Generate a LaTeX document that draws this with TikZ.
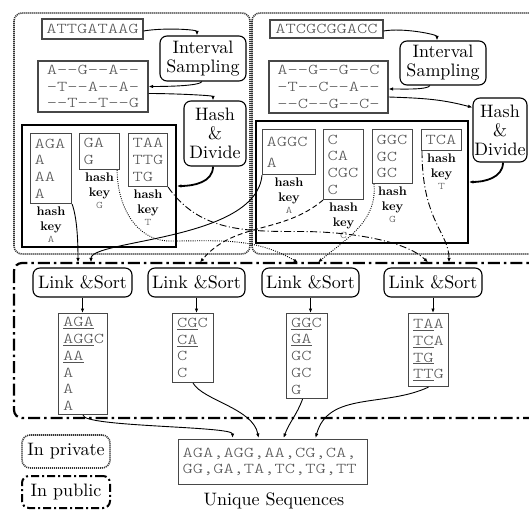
\documentclass[tikz,border=0pt]{standalone}
\usepackage{fontspec}
\setmainfont{lmroman10-regular.otf}[BoldFont=lmroman10-bold.otf]
\newfontfamily\seqfamily[FakeStretch=1.3]{lmmonolt10-regular.otf}
\usetikzlibrary{arrows.meta}
\definecolor{seqgray}{gray}{0.33}
\definecolor{boxgray}{gray}{0.28}
\newcommand\seqtext{\seqfamily\fontsize{15}{16.7}\selectfont}
\newcommand\labtext{\fontsize{18}{19}\selectfont}
\newcommand\keytext{\fontsize{12.5}{14.5}\selectfont\bfseries}
\newcommand\keyletter[1]{{\seqfamily\fontsize{10}{10}\selectfont\textcolor{seqgray}{#1}}}
\begin{document}
\begin{tikzpicture}[x=1pt,y=1pt,
  >={Latex[length=4.5pt,width=3.5pt]},
  seqbox/.style={draw=boxgray,line width=1.1pt,inner sep=0pt,font=\seqtext,text=seqgray,align=center},
  bucket/.style={draw=boxgray,line width=1.1pt,inner xsep=4pt,inner ysep=0pt,font=\seqtext,text=seqgray,align=left,anchor=north west},
  procbox/.style={draw=black,line width=1.1pt,rounded corners=7pt,inner sep=0pt,font=\labtext,align=center},
  keylbl/.style={font=\keytext,align=center,inner sep=0pt,anchor=north},
  privbox/.style={draw=black!80,line width=1.6pt,dash pattern=on 1.1pt off 0.9pt,rounded corners=8pt},
  pubbox/.style={draw=black,line width=2.2pt,dash pattern=on 12pt off 4pt on 2.5pt off 4pt,rounded corners=8pt},
  legpub/.style={draw=black,line width=2pt,dash pattern=on 8pt off 3pt on 2pt off 3pt,rounded corners=7pt},
  inbox/.style={draw=black,line width=1.8pt,inner sep=0pt},
  conn/.style={->,line width=0.9pt},
  thickconn/.style={->,line width=1.8pt},
  dotconn/.style={->,line width=0.9pt,dash pattern=on 0.9pt off 1.3pt},
  dashconn/.style={->,line width=0.9pt,dash pattern=on 5pt off 3pt},
  dashdotconn/.style={->,line width=0.9pt,dash pattern=on 7pt off 2.5pt on 1pt off 2.5pt},
]
\useasboundingbox (0,0) rectangle (529,-510);
\clip (0,0) rectangle (529,-510);

% regions
\draw[privbox] (14,-13) rectangle (250,-254);
\draw[privbox] (252,-13) rectangle (545,-254);
\draw[pubbox] (14,-263) rectangle (550,-418);

% left party
\node[seqbox,minimum width=101pt,minimum height=20pt] (s1) at (92.5,-29) {ATTGATAAG};
\node[procbox,minimum width=86pt,minimum height=45pt] (is1) at (203,-58.5) {Interval\\Sampling};
\node[seqbox,minimum width=110pt,minimum height=51pt] (al1) at (93,-86.5) {A--G--A--\\-T--A--A-\\--T--T--G};
\node[procbox,minimum width=62pt,minimum height=65pt] (hd1) at (215,-133.5) {Hash\\\&\\Divide};
\node[inbox,minimum width=154pt,minimum height=122pt] (in1) at (99,-186) {};
\node[bucket,text width=33pt,minimum height=70pt] (bA1) at (30,-133) {AGA\\A\\AA\\A};
\node[bucket,text width=32pt,minimum height=36pt] (bG1) at (79,-133) {GA\\G};
\node[bucket,text width=31pt,minimum height=53pt] (bT1) at (128,-133) {TAA\\TTG\\TG};
\node[keylbl] (kA1) at ([yshift=-3pt]bA1.south) {hash\\key\\[-2.5pt]\keyletter{A}};
\node[keylbl] (kG1) at ([yshift=-3pt]bG1.south) {hash\\key\\[-2.5pt]\keyletter{G}};
\node[keylbl] (kT1) at ([yshift=-3pt]bT1.south) {hash\\key\\[-2.5pt]\keyletter{T}};

% right party
\node[seqbox,minimum width=113pt,minimum height=18pt] (s2) at (326.5,-29) {ATCGCGGACC};
\node[procbox,minimum width=86pt,minimum height=44pt] (is2) at (443,-63) {Interval\\Sampling};
\node[seqbox,minimum width=119pt,minimum height=52pt] (al2) at (328.5,-87) {A--G--G--C\\-T--C--A--\\--C--G--C-};
\node[procbox,minimum width=54pt,minimum height=64pt] (hd2) at (500,-130) {Hash\\\&\\Divide};
\node[inbox,minimum width=212pt,minimum height=122pt] (in2) at (362,-182) {};
\node[bucket,text width=45pt,minimum height=45pt] (bA2) at (262,-129) {AGGC\\[4pt]A};
\node[bucket,text width=32pt,minimum height=70pt] (bC2) at (323,-129) {C\\CA\\CGC\\C};
\node[bucket,text width=32pt,minimum height=54pt] (bG2) at (372,-129) {GGC\\GC\\GC};
\node[bucket,text width=32pt,minimum height=21pt] (bT2) at (421,-129) {TCA};
\node[keylbl] (kA2) at ([yshift=-3pt]bA2.south) {hash\\key\\[-2.5pt]\keyletter{A}};
\node[keylbl] (kC2) at ([yshift=-3pt]bC2.south) {hash\\key\\[-2.5pt]\keyletter{C}};
\node[keylbl] (kG2) at ([yshift=-3pt]bG2.south) {hash\\key\\[-2.5pt]\keyletter{G}};
\node[keylbl] (kT2) at ([yshift=-3pt]bT2.south) {hash\\key\\[-2.5pt]\keyletter{T}};

% public
\node[procbox,minimum width=99pt,minimum height=29pt] (ls1) at (82.5,-282.5) {Link \&Sort};
\node[procbox,minimum width=97pt,minimum height=29pt] (ls2) at (196.5,-282.5) {Link \&Sort};
\node[procbox,minimum width=97pt,minimum height=29pt] (ls3) at (310.5,-282.5) {Link \&Sort};
\node[procbox,minimum width=98pt,minimum height=29pt] (ls4) at (433,-282.5) {Link \&Sort};

\node[bucket,inner xsep=4.5pt,text width=40pt,minimum height=101pt] (r1) at (58,-313) {\underline{AGA}\\\underline{AGG}C\\\underline{AA}\\A\\A\\A};
\node[bucket,inner xsep=4.5pt,text width=32pt,minimum height=69pt] (r2) at (172,-313) {\underline{CG}C\\\underline{CA}\\C\\C};
\node[bucket,inner xsep=4.5pt,text width=32pt,minimum height=85pt] (r3) at (286,-313) {\underline{GG}C\\\underline{GA}\\GC\\GC\\G};
\node[bucket,inner xsep=4.5pt,text width=31pt,minimum height=73pt] (r4) at (408,-313) {\underline{TA}A\\\underline{TC}A\\\underline{TG}\\\underline{TT}G};

\node[bucket,text width=181pt,minimum height=45pt] (u) at (178,-439) {AGA,AGG,AA,CG,CA,\\[-1pt]GG,GA,TA,TC,TG,TT};
\node[font=\labtext,inner sep=0pt] (ulab) at (274,-501) {Unique Sequences};

% legend
\node[privbox,font=\labtext,minimum width=88pt,minimum height=33pt,inner sep=0pt] (legpriv) at (66,-451.5) {In private};
\node[legpub,font=\labtext,minimum width=88pt,minimum height=32pt,inner sep=0pt] (legpubl) at (66,-492) {In public};

% top flow, left
\draw[conn] ([yshift=-2pt]s1.east) to[out=10,in=90,out distance=20pt,in distance=6pt] ([xshift=-6pt]is1.north);
\draw[conn] ([xshift=-1pt]is1.south) to[out=-120,in=0,out distance=5pt,in distance=20pt] (al1.east);
\draw[conn] ([yshift=-7pt]al1.east) to[out=0,in=90,out distance=26pt,in distance=5pt] ([xshift=-2pt]hd1.north);
\draw[thickconn] ([xshift=-2pt]hd1.south) to[out=-90,in=0] (in1.east);

% top flow, right
\draw[conn] ([yshift=-2pt]s2.east) to[out=10,in=90,out distance=20pt,in distance=6pt] ([xshift=-6pt]is2.north);
\draw[conn] ([xshift=-13pt]is2.south) to[out=-120,in=0,out distance=5pt,in distance=16pt] ([yshift=-2pt]al2.east);
\draw[conn] ([yshift=-10pt]al2.east) to[out=-2,in=165] ([yshift=-10pt]hd2.north west);
\draw[thickconn] ([xshift=3pt]hd2.south) to[out=-90,in=0] (in2.east);

% buckets to Link & Sort
\coordinate (wG) at (170,-241);
\coordinate (wT) at (300,-231.5);
\draw[conn] (bA1.south east) to[out=-70,in=90,out distance=15pt,in distance=20pt] ([xshift=-4.5pt,yshift=5pt]ls1.north);
\draw[conn] (bA2.south west) to[out=-95,in=90,out distance=66pt,in distance=23pt] ([xshift=8.5pt,yshift=5pt]ls1.north);
\draw[dashconn] (bC2.south west) to[out=-140,in=50] ([xshift=3.5pt,yshift=5pt]ls2.north);
\draw[dotconn] ([xshift=-3pt]bG1.south east) to[out=-90,in=180] (wG) to[out=0,in=150] ([xshift=-12.5pt,yshift=5pt]ls3.north);
\draw[dotconn] ([xshift=2pt]bG2.south west) to[out=-85,in=40] ([xshift=7.5pt,yshift=5pt]ls3.north);
\draw[dashdotconn] (bT1.south east) to[out=-55,in=180] (wT) to[out=0,in=135,in distance=30pt] ([xshift=-5pt,yshift=5pt]ls4.north);
\draw[dashdotconn] ([xshift=1pt]bT2.south west) to[out=-90,in=90,out distance=70pt,in distance=30pt] ([xshift=16pt,yshift=5pt]ls4.north);

% Link & Sort to results
\draw[conn] (ls1.south) -- (ls1.south |- r1.north);
\draw[conn] (ls2.south) -- (ls2.south |- r2.north);
\draw[conn] (ls3.south) -- (ls3.south |- r3.north);
\draw[conn] (ls4.south) -- (ls4.south |- r4.north);

% results to unique
\draw[conn] (r1.south) to[out=-90,in=90,out distance=12pt,in distance=12pt] ([xshift=-40.5pt,yshift=1pt]u.north);
\draw[conn] (r2.south) to[out=-60,in=100,out distance=20pt,in distance=30pt] ([xshift=-14.5pt,yshift=1pt]u.north);
\draw[conn] ([xshift=-4.5pt]r3.south) to[out=-110,in=70] ([xshift=10.5pt,yshift=1pt]u.north);
\draw[conn] (r4.south) to[out=-155,in=75] ([xshift=42.5pt,yshift=1pt]u.north);
\end{tikzpicture}
\end{document}
